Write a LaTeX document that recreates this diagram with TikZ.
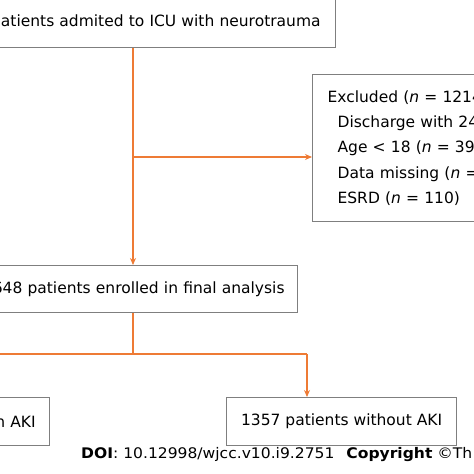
\documentclass[tikz,border=0pt]{standalone}
\usepackage{fontspec}
\setmainfont{DejaVu Sans}
\newfontfamily\footfont[FakeStretch=1.065]{DejaVu Sans}
\usetikzlibrary{arrows.meta}
\definecolor{boxgray}{HTML}{7F7F7F}
\definecolor{flowor}{HTML}{EE7B35}
\begin{document}
\begin{tikzpicture}[x=1pt,y=-1pt,
  box/.style={draw=boxgray, line width=1.2pt, fill=white, inner ysep=0pt, font=\fontsize{15.5}{25.3}\selectfont},
  flow/.style={draw=flowor, line width=1.15pt},
  arr/.style={flow, -{Stealth[length=7pt,width=6pt]}},
  foot/.style={font=\footfont\fontsize{14.6}{16}\selectfont, inner sep=0pt}]
\useasboundingbox (0,0) rectangle (474,474);
\begin{scope}
\clip (0,0) rectangle (474,474);
\node[box, anchor=north west, minimum height=50pt, inner xsep=15pt, text width=345pt, align=right] (top) at (-40,-3) {patients admited to ICU with neurotrauma};
\node[box, anchor=north west, minimum height=147pt, inner xsep=15pt, text width=218pt, align=left] (excl) at (312,74)
 {Excluded (\textit{n} = 1214\\
 \hspace*{10pt}Discharge with 24\\
 \hspace*{10pt}Age < 18 (\textit{n} = 39\\
 \hspace*{10pt}Data missing (\textit{n} =\\
 \hspace*{10pt}ESRD (\textit{n} = 110)};
\node[box, anchor=north west, minimum height=47pt, inner xsep=13pt, text width=311pt, align=right] (enr) at (-40,265) {648 patients enrolled in final analysis};
\node[box, anchor=north west, minimum height=48pt, inner xsep=14pt, text width=81pt, align=right] (aki) at (-60,397) {h AKI};
\node[box, anchor=north west, minimum height=48pt, minimum width=230pt] (noaki) at (226,397) {1357 patients without AKI};
\coordinate (split1) at (133,157);
\coordinate (split2) at (133,354);
\coordinate (leftend) at (-10,354);
\draw[arr] (top.south -| split1) -- (enr.north -| split1);
\draw[arr] (split1) -- (split1 -| excl.west);
\draw[flow] (enr.south -| split2) -- (split2);
\draw[flow] (leftend) -- (split2) -- (split2 -| 307,0);
\draw[arr] (307,354) -- (noaki.north -| 307,0);
\node[foot, anchor=west] (doi) at (81,455) {\textbf{DOI}: 10.12998/wjcc.v10.i9.2751\hspace{12pt}\textbf{Copyright} ©Th};
\end{scope}
\end{tikzpicture}
\end{document}
